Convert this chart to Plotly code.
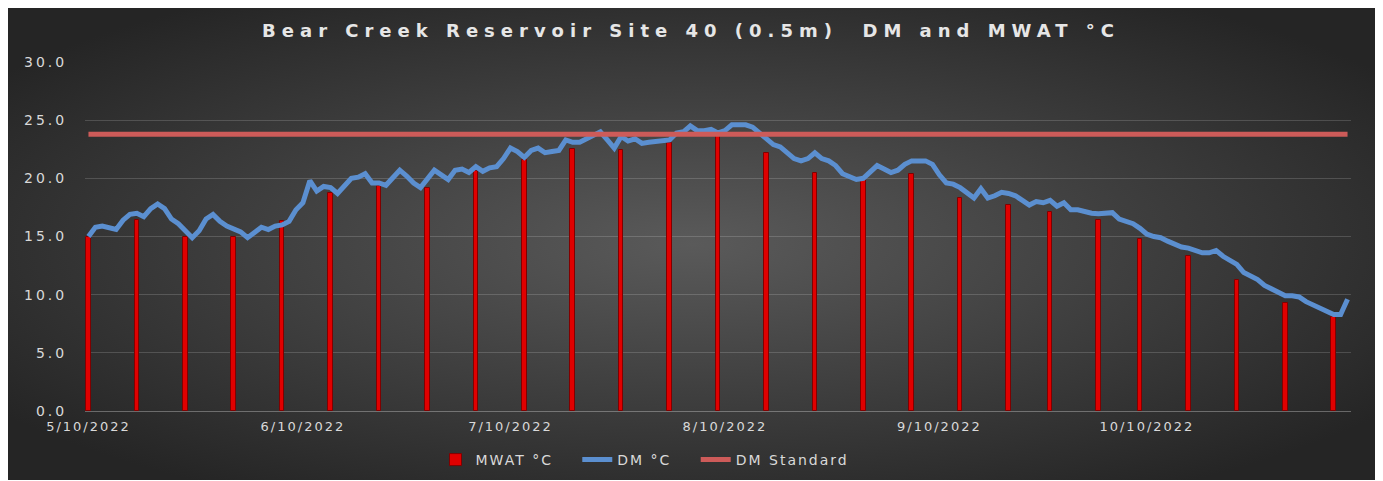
import base64
import pandas as pd
import plotly.graph_objects as go

# daily DM (°C) starting 5/10/2022
dm_start = '2022-05-10'
dm_values = [
    15.0, 15.8, 15.9, 15.7, 15.6, 16.4, 16.9, 17.0, 16.7, 17.4,
    17.8, 17.4, 16.5, 16.1, 15.5, 14.9, 15.5, 16.5, 16.9, 16.3,
    15.9, 15.7, 15.4, 14.9, 15.3, 15.8, 15.6, 15.9, 16.0, 16.3,
    17.3, 17.9, 19.8, 18.9, 19.3, 19.2, 18.7,
    19.4, 20.0, 20.1, 20.4, 19.6, 19.6, 19.4, 20.1, 20.7, 20.2,
    19.6, 19.2, 20.0, 20.7, 20.3, 19.9, 20.7, 20.8, 20.5, 21.0,
    20.6, 20.9, 21.0, 21.7, 22.6, 22.3, 21.8, 22.4, 22.6, 22.2,
    22.3, 22.4, 23.3, 23.1, 23.1, 23.4,
    23.7, 24.0, 23.3, 22.6, 23.6, 23.2, 23.4, 23.0, 23.1, 23.2,
    23.3, 23.3, 23.9, 24.0, 24.5, 24.1, 24.1, 24.2, 23.9, 24.1,
    24.6, 24.6, 24.6, 24.4, 23.9, 23.3, 22.9, 22.7, 22.2, 21.7,
    21.5, 21.7, 22.2, 21.7, 21.5, 21.1,
    20.4, 20.2, 19.9, 20.0, 20.6, 21.1, 20.8, 20.5, 20.7, 21.2,
    21.5, 21.5, 21.5, 21.2, 20.3, 19.6, 19.5, 19.2, 18.8, 18.3,
    19.1, 18.3, 18.5, 18.8, 18.7, 18.5, 18.1, 17.7, 18.0, 17.9,
    18.1, 17.6, 17.9, 17.3, 17.3, 17.1,
    17.0, 16.95, 17.0, 17.05, 16.5, 16.3, 16.1, 15.7, 15.2, 15.0,
    14.9, 14.6, 14.3, 14.1, 14.0, 13.8, 13.6, 13.6, 13.8, 13.3,
    12.9, 12.6, 11.9, 11.6, 11.3, 10.8, 10.5, 10.3, 9.9, 9.9,
    9.8, 9.4, 9.1, 8.8, 8.5, 8.3, 8.3, 9.6,
]

mwat_dates = [
    '2022-05-10', '2022-05-17', '2022-05-24', '2022-05-31', '2022-06-07',
    '2022-06-14', '2022-06-21', '2022-06-28', '2022-07-05', '2022-07-12',
    '2022-07-19', '2022-07-26', '2022-08-02', '2022-08-09', '2022-08-16',
    '2022-08-23', '2022-08-30', '2022-09-06', '2022-09-13', '2022-09-20',
    '2022-09-26', '2022-10-03', '2022-10-09', '2022-10-16', '2022-10-23',
    '2022-10-30', '2022-11-06',
]
mwat_values = [
    15.0, 16.4, 15.0, 15.0, 16.3, 18.7, 19.3, 19.2, 20.6, 21.6,
    22.5, 22.4, 23.0, 23.7, 22.2, 20.5, 19.9, 20.35, 18.3, 17.7,
    17.1, 16.4, 14.75, 13.3, 11.25, 9.3, 8.1,
]

dm_standard = 23.8

x_tick_dates = ['2022-05-10', '2022-06-10', '2022-07-10', '2022-08-10', '2022-09-10', '2022-10-10']
x_tick_labels = ['5/10/2022', '6/10/2022', '7/10/2022', '8/10/2022', '9/10/2022', '10/10/2022']
y_tick_values = [0, 5, 10, 15, 20, 25, 30]

dm_dates = pd.date_range(dm_start, periods=len(dm_values), freq='D')

# page body keeps its default 8px margin, so the figure is 8px smaller
W, H = 1375, 473
M = dict(l=77, r=32, t=54, b=70, autoexpand=False)
pw = W - M['l'] - M['r']
ph = H - M['t'] - M['b']
txt = '#d9d9d9'
font = 'DejaVu Sans'


def spaced(s, px):
    return f'<span style="letter-spacing:{px}px">{s}</span>'


def legend_name(s):
    # a little room after each entry, like the Excel legend
    return spaced(s + '&nbsp;&nbsp;&nbsp;', 2)


# dark radial background like the Excel chart area
svg = (
    '<svg xmlns="http://www.w3.org/2000/svg" viewBox="0 0 100 100" preserveAspectRatio="none">'
    '<defs><radialGradient id="g" cx="0.5" cy="0.5" r="0.62">'
    '<stop offset="0" stop-color="#5a5a5a"/><stop offset="1" stop-color="#252525"/>'
    '</radialGradient></defs><rect width="100" height="100" fill="url(#g)"/></svg>'
)
bg_src = 'data:image/svg+xml;base64,' + base64.b64encode(svg.encode()).decode()

fig = go.Figure()

fig.add_trace(go.Bar(
    x=mwat_dates, y=mwat_values,
    name=legend_name('MWAT °C'),
    width=0.66 * 86400000,
    marker=dict(color='#e00000', line=dict(color='#800000', width=1)),
))
fig.add_trace(go.Scatter(
    x=dm_dates, y=dm_values,
    name=legend_name('DM °C'),
    mode='lines',
    line=dict(color='#5b8fd0', width=5),
))
fig.add_trace(go.Scatter(
    x=[dm_dates[0], dm_dates[-1]], y=[dm_standard, dm_standard],
    name=spaced('DM Standard', 2),
    mode='lines',
    line=dict(color='#cd5b59', width=5),
))

fig.update_layout(
    width=W, height=H,
    margin=M,
    paper_bgcolor='white',
    plot_bgcolor='rgba(0,0,0,0)',
    font=dict(family=font, color=txt, size=14),
    title=dict(
        text='<b>' + spaced('Bear Creek Reservoir Site 40 (0.5m)  DM and MWAT °C', 6) + '</b>',
        x=683 / W, xanchor='center', y=1 - 23 / H, yanchor='middle',
        font=dict(family=font, size=18, color='#e6e6e6'),
    ),
    images=[dict(
        source=bg_src, xref='paper', yref='paper',
        x=-M['l'] / pw, y=1 + M['t'] / ph,
        sizex=1370 / pw, sizey=472 / ph,
        xanchor='left', yanchor='top', sizing='stretch', layer='below',
    )],
    showlegend=True,
    legend=dict(
        orientation='h', x=(637 - M['l']) / pw, xanchor='center',
        y=-49 / ph, yanchor='middle',
        font=dict(family=font, size=14, color=txt),
        bgcolor='rgba(0,0,0,0)',
    ),
    bargap=0,
)

fig.update_xaxes(
    type='date',
    automargin=False,
    range=['2022-05-09 12:00', '2022-11-08 12:00'],
    tickvals=x_tick_dates,
    ticktext=[spaced(t, 2) for t in x_tick_labels],
    ticks='outside', ticklen=3, tickcolor='rgba(0,0,0,0)',
    showgrid=False,
    showline=True, linecolor='rgba(255,255,255,0.3)', linewidth=1,
    tickfont=dict(family=font, size=13, color=txt),
)
fig.update_yaxes(
    automargin=False,
    range=[0, 30],
    tickvals=y_tick_values,
    ticktext=[spaced(f'{v:.1f}', 3) for v in y_tick_values],
    ticks='outside', ticklen=14, tickcolor='rgba(0,0,0,0)',
    showgrid=True, gridcolor='rgba(255,255,255,0.16)', gridwidth=1,
    zeroline=False,
    tickfont=dict(family=font, size=14, color=txt),
)

fig.write_html('out.html')
